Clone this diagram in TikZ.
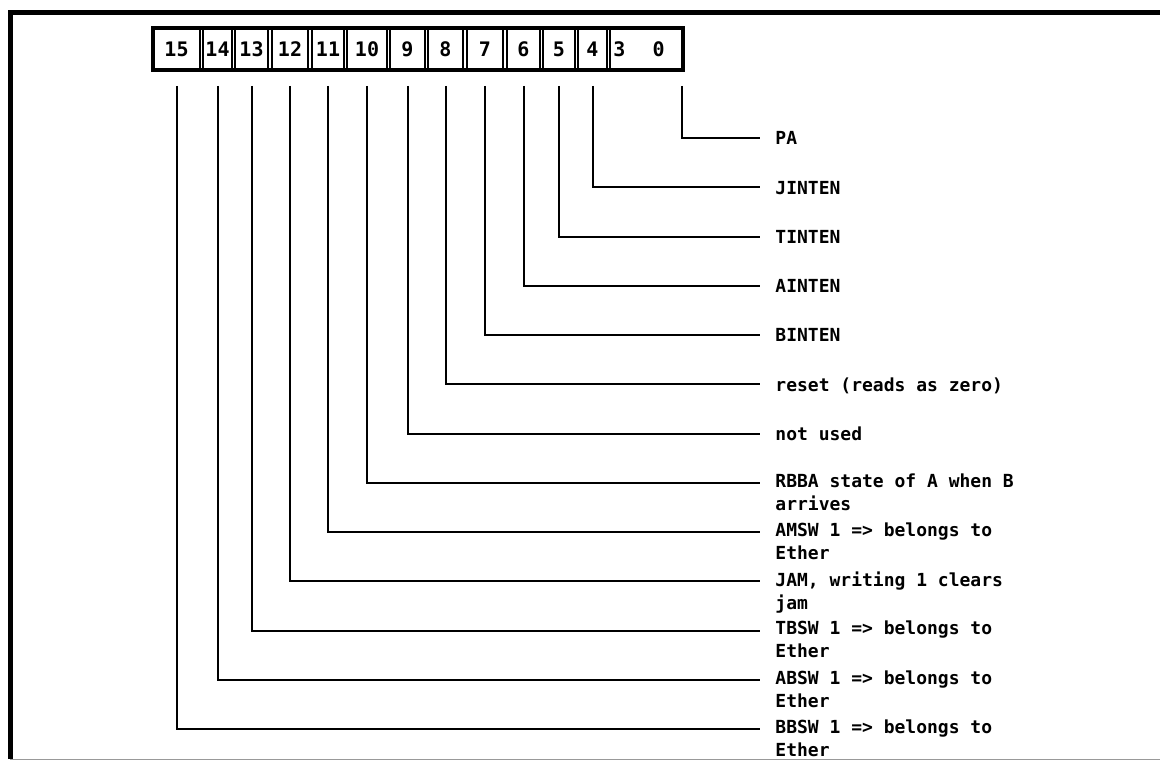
\documentclass[tikz,border=0pt]{standalone}
\usepackage{fontspec}
\setmonofont{DejaVu Sans Mono}
\usepackage{tikz}
\usetikzlibrary{positioning,calc}
\tikzset{
  regbit/.style={draw, line width=0.8pt, minimum height=21pt, inner sep=0pt, font=\fontsize{10}{12}\selectfont\ttfamily\bfseries},
  regtxt/.style={inner sep=0pt, font=\fontsize{10}{12}\selectfont\ttfamily\bfseries},
  leader/.style={line width=1pt},
  fieldlbl/.style={anchor=north west, inner sep=0pt, align=left, execute at begin node=\strut, font=\fontsize{9}{11.5}\selectfont\ttfamily\bfseries}
}
\begin{document}
\begin{tikzpicture}[x=0.5pt, y=-0.5pt]
  \useasboundingbox (0,0) rectangle (1160,761);
  \draw[line width=2.5pt] (1160,12) -- (10,12) -- (10,759);
  \draw[black!40, line width=0.6pt] (10,759.5) -- (1160,759.5);
  \foreach \b/\l/\r in {15/153/200,14/203/232,13/235/268,12/272/308,11/312/344,10/347/387,9/390/425,8/428/463,7/467/503,6/507/540,5/543/575,4/578/607}
    \node[regbit, minimum width={(\r-\l)*0.5pt}] (b\b) at ({(\l+\r)/2},49) {\b};
  \node[regbit, minimum width=36.5pt] (b3) at (646.5,49) {};
  \node[regtxt, anchor=west] (n3) at (613,49) {3};
  \node[regtxt, anchor=east] (n0) at (665,49) {0};
  \draw[line width=1.6pt] (153,28) rectangle (683,70);
  \node[fieldlbl] (t3) at (775,128.4) {PA};
  \draw[leader] ([xshift=-1pt,yshift=-7.5pt]b3.south east) |- ([xshift=-7.5pt,yshift=-4.8pt]t3.north west);
  \foreach \b/\txt in {4/JINTEN,5/TINTEN,6/AINTEN,7/BINTEN,8/reset (reads as zero),9/not used,10/RBBA state of A when B\\arrives,11/AMSW 1 => belongs to\\Ether,12/{JAM, writing 1 clears\\jam},13/TBSW 1 => belongs to\\Ether,14/ABSW 1 => belongs to\\Ether,15/BBSW 1 => belongs to\\Ether}{
    \node[fieldlbl] (t\b) at (775,{128.4+49.25*(\b-3)}) {\txt};
    \draw[leader] ([yshift=-7.5pt]b\b.south) |- ([xshift=-7.5pt,yshift=-4.8pt]t\b.north west);
  }
\end{tikzpicture}
\end{document}
